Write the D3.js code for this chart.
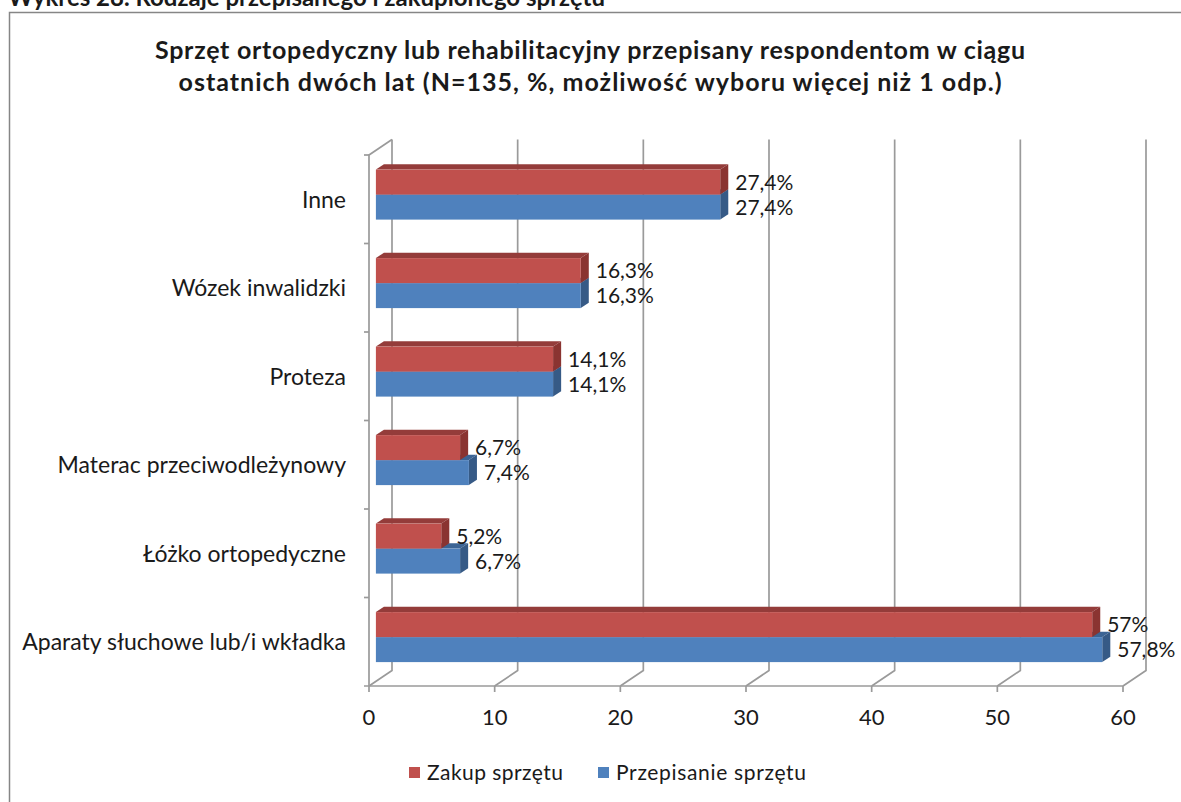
<!DOCTYPE html>
<html><head><meta charset="utf-8">
<script src="https://cdn.jsdelivr.net/npm/d3@7"></script>
<style>
html,body{margin:0;padding:0;background:#fff;overflow:hidden}
text{font-family:Lato,"Open Sans",sans-serif;fill:#1a1a1a}
</style></head>
<body>
<svg id="c" width="1181" height="802"></svg>
<script>
const categories = ["Inne","Wózek inwalidzki","Proteza","Materac przeciwodleżynowy","Łóżko ortopedyczne","Aparaty słuchowe lub/i wkładka"];
const seriesNames = ["Zakup sprzętu","Przepisanie sprzętu"];
const zakup = [27.4,16.3,14.1,6.7,5.2,57];
const przepisanie = [27.4,16.3,14.1,7.4,6.7,57.8];
const xTicks = [0,10,20,30,40,50,60];
const headerText = "Wykres 28. Rodzaje przepisanego i zakupionego sprzętu";
const titleLines = ["Sprzęt ortopedyczny lub rehabilitacyjny przepisany respondentom w ciągu","ostatnich dwóch lat (N=135, %, możliwość wyboru więcej niż 1 odp.)"];

const colors = {
  "Zakup sprzętu": {front:"#C0504D", top:"#943C3A", side:"#8A3431"},
  "Przepisanie sprzętu": {front:"#4F81BD", top:"#3C6494", side:"#365A86"}
};
const svg = d3.select("#c");
const x = d3.scaleLinear().domain([0,60]).range([369,1123]);
const y0 = d3.scaleBand().domain(categories).range([155,686]).padding(0);
const y1 = d3.scaleBand().domain(seriesNames).range([0,y0.bandwidth()]).paddingInner(0).paddingOuter(0.77);
const DX = 23, DY = -15.5;            // full depth offset
const d0 = 0.3, d1 = 0.65;             // bar depth range
const P = (v, yy, d) => [x(v) + d*DX, yy + d*DY];
const fmt = v => String(v).replace(".", ",") + "%";
function fit(sel, w){ sel.each(function(){ const L=this.getComputedTextLength(); if(Math.abs(L-w)>2){ d3.select(this).attr("textLength",w).attr("lengthAdjust","spacing"); } }); }

// header & frame
svg.append("text").attr("x",8).attr("y",6).attr("font-weight","bold").attr("font-size",24).text(headerText);
svg.append("rect").attr("x",9.5).attr("y",12.5).attr("width",1200).attr("height",820)
  .attr("fill","#fff").attr("stroke","#868686").attr("stroke-width",1.5);

// title
const tl = svg.selectAll(".title").data(titleLines).join("text")
  .attr("x",590).attr("y",(d,i)=>59+i*32).attr("text-anchor","middle")
  .attr("font-weight","bold").attr("font-size",25).text(d=>d);
fit(tl.filter((d,i)=>i===0), 870);
fit(tl.filter((d,i)=>i===1), 823);

const grid = svg.append("g").attr("stroke","#9a9a9a").attr("stroke-width",1.7).attr("fill","none");
// back wall + floor gridlines
xTicks.forEach(t=>{
  const top = P(t, y0.range()[0], 1), bb = P(t, y0.range()[1], 1), bf = P(t, y0.range()[1], 0);
  grid.append("path").attr("d", d3.line()([top, bb, bf]));
});
// left wall
grid.append("path").attr("d", d3.line()([P(0,y0.range()[0],1), P(0,y0.range()[0],0), P(0,y0.range()[1],0)]));
// bottom axis
grid.append("line").attr("x1",x(0)-5).attr("x2",x(60)).attr("y1",y0.range()[1]).attr("y2",y0.range()[1]);
xTicks.forEach(t=>grid.append("line").attr("x1",x(t)).attr("x2",x(t)).attr("y1",y0.range()[1]).attr("y2",y0.range()[1]+6));
// category ticks
categories.forEach(c=>grid.append("line").attr("x1",x(0)-5).attr("x2",x(0)).attr("y1",y0(c)).attr("y2",y0(c)));

// x tick labels
svg.selectAll(".xt").data(xTicks).join("text").attr("x",d=>x(d)).attr("y",725)
  .attr("text-anchor","middle").attr("font-size",22).text(d=>d);
// category labels
svg.selectAll(".cl").data(categories).join("text").attr("x",346).attr("y",d=>y0(d)+y0.bandwidth()/2+8.5)
  .attr("text-anchor","end").attr("font-size",23).text(d=>d);

// bars
const bars = svg.append("g");
const seriesData = {"Zakup sprzętu": zakup, "Przepisanie sprzętu": przepisanie};
categories.forEach((c,i)=>{
  ["Przepisanie sprzętu","Zakup sprzętu"].forEach(s=>{
    const v = seriesData[s][i];
    const yt = y0(c)+y1(s), yb = yt + y1.bandwidth();
    const col = colors[s];
    const g = bars.append("g");
    g.append("path").attr("fill",col.top).attr("d", d3.line()([P(0,yt,d0),P(v,yt,d0),P(v,yt,d1),P(0,yt,d1)])+"Z");
    g.append("path").attr("fill",col.side).attr("d", d3.line()([P(v,yt,d0),P(v,yt,d1),P(v,yb,d1),P(v,yb,d0)])+"Z");
    const f0 = P(0,yt,d0), f1 = P(v,yb,d0);
    g.append("rect").attr("fill",col.front).attr("x",f0[0]).attr("y",f0[1]).attr("width",f1[0]-f0[0]).attr("height",f1[1]-f0[1]);
  });
});
// data labels
const lab = svg.append("g");
categories.forEach((c,i)=>{
  seriesNames.forEach(s=>{
    const v = seriesData[s][i];
    const yt = y0(c)+y1(s);
    const p = P(v, yt + y1.bandwidth()/2, d0);
    lab.append("text").attr("x",p[0]+15).attr("y",p[1]+7.5).attr("font-size",21).text(fmt(v));
  });
});

// legend
const leg = svg.append("g");
const legX = [409, 598];
const legW = [136, 190];
seriesNames.forEach((s,i)=>{
  leg.append("rect").attr("x",legX[i]).attr("y",767).attr("width",11).attr("height",11).attr("fill",colors[s].front);
  const t = leg.append("text").attr("x",legX[i]+18).attr("y",780).attr("font-size",21).text(s);
  fit(t, legW[i]);
});
</script>
</body></html>
